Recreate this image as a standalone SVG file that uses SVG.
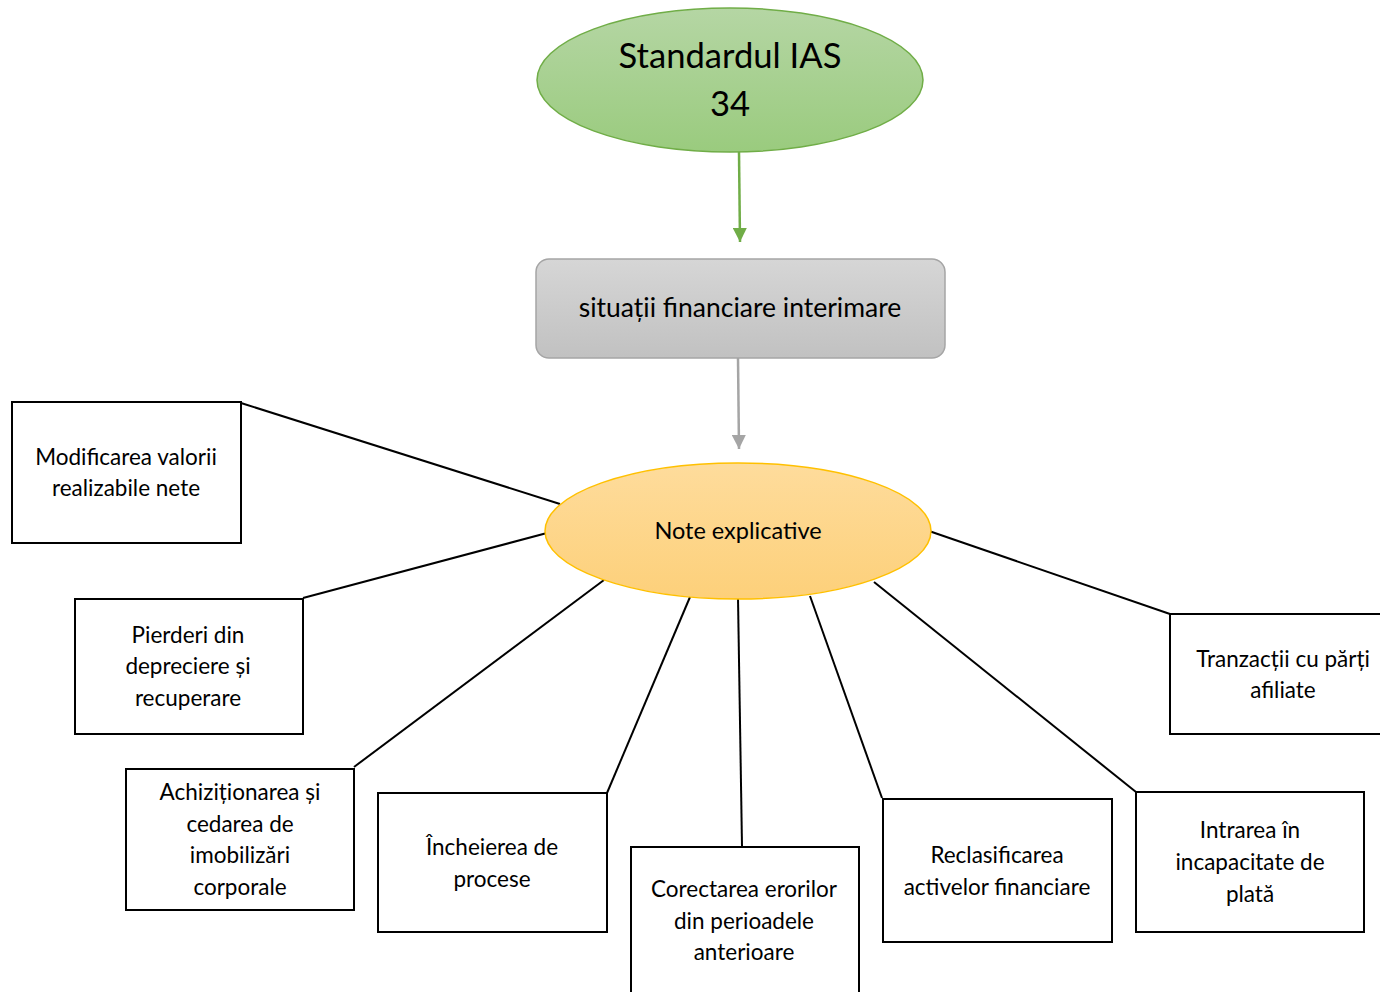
<svg xmlns="http://www.w3.org/2000/svg" width="1380" height="992" viewBox="0 0 1380 992">
<defs>
<linearGradient id="gGreen" x1="0" y1="0" x2="0" y2="1"><stop offset="0" stop-color="#b5d6a4"/><stop offset="1" stop-color="#9acb7e"/></linearGradient>
<linearGradient id="gGray" x1="0" y1="0" x2="0" y2="1"><stop offset="0" stop-color="#d6d6d6"/><stop offset="1" stop-color="#c1c1c1"/></linearGradient>
<linearGradient id="gOrange" x1="0" y1="0" x2="0" y2="1"><stop offset="0" stop-color="#fedc9c"/><stop offset="1" stop-color="#fdd07a"/></linearGradient>
<marker id="mGreen" viewBox="0 0 10 10" refX="10" refY="5" markerWidth="14" markerHeight="14" markerUnits="userSpaceOnUse" orient="auto"><path d="M0,0 L10,5 L0,10 z" fill="#70ad47"/></marker>
<marker id="mGray" viewBox="0 0 10 10" refX="10" refY="5" markerWidth="14" markerHeight="14" markerUnits="userSpaceOnUse" orient="auto"><path d="M0,0 L10,5 L0,10 z" fill="#a5a5a5"/></marker>
</defs>
<style>
text{font-family:Lato,"Open Sans","Liberation Sans",sans-serif;fill:#000;text-anchor:middle}
.box{fill:#fff;stroke:#000;stroke-width:2}
.t{font-size:22.5px}
.link{stroke:#000;stroke-width:2;fill:none}
</style>
<rect width="1380" height="992" fill="#fff"/>
<g id="connectors">
<line x1="739" y1="152" x2="740" y2="242" stroke="#70ad47" stroke-width="2.5" marker-end="url(#mGreen)"/>
<line x1="738" y1="358" x2="739" y2="449" stroke="#a5a5a5" stroke-width="2.5" marker-end="url(#mGray)"/>
<line class="link" x1="241" y1="403" x2="560" y2="504"/>
<line class="link" x1="303" y1="598" x2="547" y2="533"/>
<line class="link" x1="354" y1="767" x2="604" y2="580"/>
<line class="link" x1="607" y1="793" x2="690" y2="597"/>
<line class="link" x1="742" y1="846" x2="738" y2="598"/>
<line class="link" x1="882" y1="798" x2="810" y2="596"/>
<line class="link" x1="1136" y1="792" x2="874" y2="582"/>
<line class="link" x1="1170" y1="614" x2="929" y2="531"/>
</g>
<g id="ias34">
<ellipse cx="730" cy="80" rx="193" ry="72" fill="url(#gGreen)" stroke="#70ad47" stroke-width="1.5"/>
<text x="730" y="68" font-size="34.6">Standardul IAS</text>
<text x="730" y="116" font-size="34.6">34</text>
</g>
<g id="situatii">
<rect x="536" y="259" width="409" height="99" rx="13" fill="url(#gGray)" stroke="#a5a5a5" stroke-width="1.5"/>
<text x="740" y="317" font-size="26.5">situații financiare interimare</text>
</g>
<g id="note">
<ellipse cx="738" cy="531" rx="193" ry="68" fill="url(#gOrange)" stroke="#ffc000" stroke-width="1.5"/>
<text x="738" y="539" font-size="23.5">Note explicative</text>
</g>
<g id="n1">
<rect class="box" x="12" y="402" width="229" height="141"/>
<text class="t" x="126" y="465">Modificarea valorii</text>
<text class="t" x="126" y="496">realizabile nete</text>
</g>
<g id="n2">
<rect class="box" x="75" y="599" width="228" height="135"/>
<text class="t" x="188" y="643">Pierderi din</text>
<text class="t" x="188" y="674">depreciere și</text>
<text class="t" x="188" y="706">recuperare</text>
</g>
<g id="n3">
<rect class="box" x="126" y="769" width="228" height="141"/>
<text class="t" x="240" y="800">Achiziționarea și</text>
<text class="t" x="240" y="832">cedarea de</text>
<text class="t" x="240" y="863">imobilizări</text>
<text class="t" x="240" y="895">corporale</text>
</g>
<g id="n4">
<rect class="box" x="378" y="793" width="229" height="139"/>
<text class="t" x="492" y="855">Încheierea de</text>
<text class="t" x="492" y="887">procese</text>
</g>
<g id="n5">
<rect class="box" x="631" y="847" width="228" height="155"/>
<text class="t" x="744" y="897">Corectarea erorilor</text>
<text class="t" x="744" y="929">din perioadele</text>
<text class="t" x="744" y="960">anterioare</text>
</g>
<g id="n6">
<rect class="box" x="883" y="799" width="229" height="143"/>
<text class="t" x="997" y="863">Reclasificarea</text>
<text class="t" x="997" y="895">activelor financiare</text>
</g>
<g id="n7">
<rect class="box" x="1136" y="792" width="228" height="140"/>
<text class="t" x="1250" y="838">Intrarea în</text>
<text class="t" x="1250" y="870">incapacitate de</text>
<text class="t" x="1250" y="902">plată</text>
</g>
<g id="n8">
<rect class="box" x="1170" y="614" width="230" height="120"/>
<text class="t" x="1283" y="667">Tranzacții cu părți</text>
<text class="t" x="1283" y="698">afiliate</text>
</g>
</svg>
